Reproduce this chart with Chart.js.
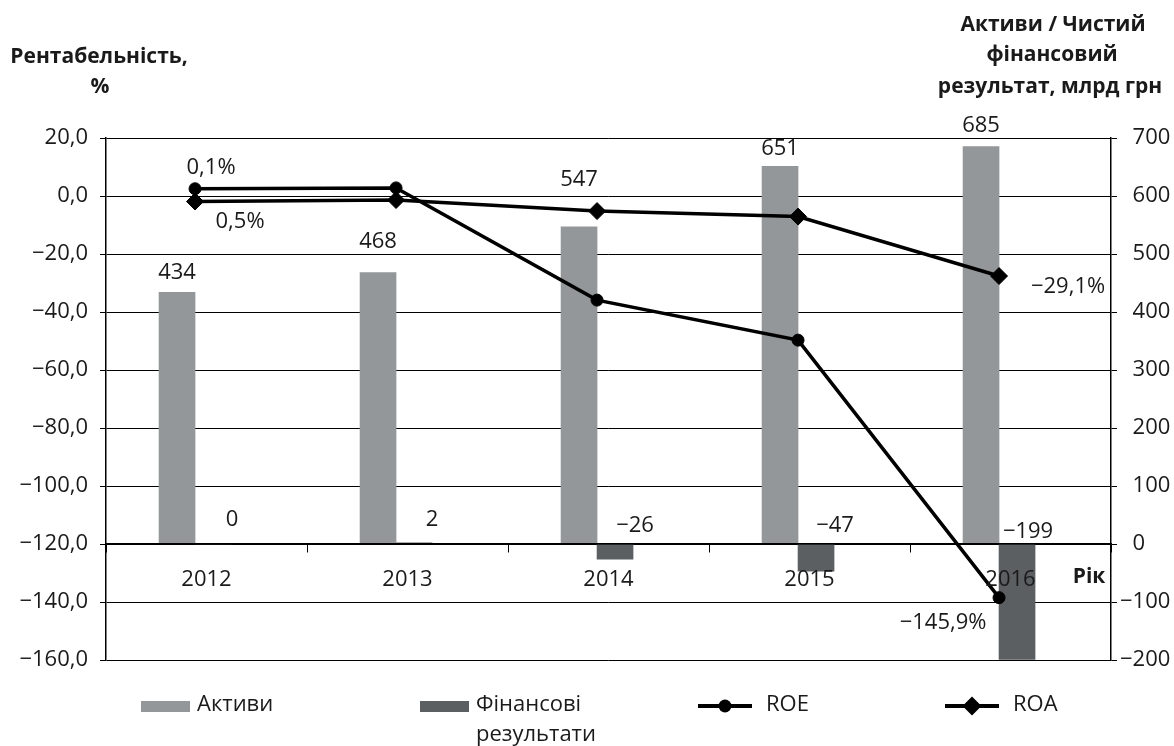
<!DOCTYPE html>
<html>
<head>
<meta charset="utf-8">
<script src="https://cdn.jsdelivr.net/npm/chart.js@4.4.1/dist/chart.umd.min.js"></script>
<style>
  html, body { margin: 0; padding: 0; background: #fff; }
</style>
</head>
<body>
<canvas id="myChart" width="1174" height="746"></canvas>
<script>
// дані
const years = ["2012", "2013", "2014", "2015", "2016"];
const aktyvy = [434, 468, 547, 651, 685];
const finRezultat = [0, 2, -26, -47, -199];
const roe = [2.5, 2.8, -35.9, -49.7, -138.5];
const roa = [-1.9, -1.4, -5.2, -7.1, -27.6];
const roeLabels = ["0,1%", "", "", "", "−145,9%"];
const roaLabels = ["0,5%", "", "", "", "−29,1%"];
const seriesNames = ["Активи", "Фінансові результати", "ROE", "ROA"];

const LIGHT = "#939799";
const DARK = "#5b5f62";
const INK = "#1a1a1a";
const FONT = "'Open Sans', sans-serif";

const minus = (s) => String(s).replace("-", "−");
const fmtPct = (v) => minus(v.toFixed(1).replace(".", ","));

const toPoints = (arr) => arr.map((v, i) => ({ x: i, y: v }));

Chart.defaults.font.family = FONT;
Chart.defaults.font.size = 22;
Chart.defaults.color = INK;

// підписи, заголовки осей та легенда
const labelsPlugin = {
  id: "labelsPlugin",
  afterDatasetsDraw(chart) {
    const ctx = chart.ctx;
    ctx.save();
    ctx.font = "22px " + FONT;
    ctx.fillStyle = INK;
    ctx.textAlign = "center";
    ctx.textBaseline = "middle";

    // активи над стовпчиками
    const lightDy = [-20, -31, -47, -18, -21];
    chart.getDatasetMeta(0).data.forEach((el, i) => {
      ctx.fillText(aktyvy[i], el.x, el.y + lightDy[i]);
    });

    // фінансові результати біля осі
    const y0 = chart.scales.y2.getPixelForValue(0);
    const darkDx = [19, 18, 20, 19, 11];
    const darkDy = [-24, -24, -18, -18, -12];
    chart.getDatasetMeta(1).data.forEach((el, i) => {
      ctx.fillText(minus(finRezultat[i]), el.x + darkDx[i], y0 + darkDy[i]);
    });

    // підписи ліній
    const roePos = { 0: [16, -21], 4: [-56, 25] };
    const roaPos = { 0: [45, 20], 4: [69, 11] };
    chart.getDatasetMeta(2).data.forEach((el, i) => {
      if (roeLabels[i]) ctx.fillText(roeLabels[i], el.x + roePos[i][0], el.y + roePos[i][1]);
    });
    chart.getDatasetMeta(3).data.forEach((el, i) => {
      if (roaLabels[i]) ctx.fillText(roaLabels[i], el.x + roaPos[i][0], el.y + roaPos[i][1]);
    });
    ctx.restore();
  },
  afterDraw(chart) {
    const ctx = chart.ctx;
    ctx.save();
    ctx.fillStyle = INK;
    ctx.textBaseline = "middle";
    ctx.textAlign = "center";

    ctx.font = "bold 21px " + FONT;
    ctx.fillText("Рентабельність,", 99, 57);
    ctx.fillText("%", 100, 87);
    ctx.fillText("Активи / Чистий", 1053, 25);
    ctx.fillText("фінансовий", 1052, 55);
    ctx.fillText("результат, млрд грн", 1050, 87);
    ctx.fillText("Рік", 1089, 577);

    // легенда
    const legendX = [141, 420, 698, 945];
    const ly = 706;
    ctx.textAlign = "left";
    ctx.font = "22px " + FONT;
    chart.data.datasets.forEach((ds, i) => {
      const x = legendX[i];
      let tx;
      if (ds.type === "line") {
        ctx.strokeStyle = "#000";
        ctx.lineWidth = 4;
        ctx.beginPath();
        ctx.moveTo(x, ly);
        ctx.lineTo(x + 54, ly);
        ctx.stroke();
        ctx.fillStyle = "#000";
        ctx.beginPath();
        if (ds.pointStyle === "circle") {
          ctx.arc(x + 27, ly, 6.5, 0, Math.PI * 2);
        } else {
          ctx.moveTo(x + 27, ly - 9.5);
          ctx.lineTo(x + 36.5, ly);
          ctx.lineTo(x + 27, ly + 9.5);
          ctx.lineTo(x + 17.5, ly);
          ctx.closePath();
        }
        ctx.fill();
        tx = x + 68;
      } else {
        ctx.fillStyle = ds.backgroundColor;
        ctx.fillRect(x, ly - 5, 49, 11);
        tx = x + 56;
      }
      ctx.fillStyle = INK;
      ds.label.split(" ").forEach((line, k) => {
        ctx.fillText(line, tx, ly - 1 + k * 30);
      });
    });
    ctx.restore();
  }
};

const ctx = document.getElementById("myChart");

const config = {
  type: "bar",
  data: {
    labels: years,
    datasets: [
      {
        type: "bar",
        label: seriesNames[0],
        data: toPoints(aktyvy),
        backgroundColor: LIGHT,
        xAxisID: "xd",
        yAxisID: "y2",
        barThickness: 36,
        order: 2
      },
      {
        type: "bar",
        label: seriesNames[1],
        data: toPoints(finRezultat),
        backgroundColor: DARK,
        xAxisID: "xd",
        yAxisID: "y2",
        barThickness: 36,
        order: 2
      },
      {
        type: "line",
        label: seriesNames[2],
        data: toPoints(roe),
        borderColor: "#000",
        borderWidth: 3.5,
        pointStyle: "circle",
        pointRadius: 6,
        pointBorderWidth: 1,
        pointBackgroundColor: "#000",
        pointBorderColor: "#000",
        tension: 0,
        xAxisID: "xd",
        yAxisID: "y",
        order: 0
      },
      {
        type: "line",
        label: seriesNames[3],
        data: toPoints(roa),
        borderColor: "#000",
        borderWidth: 3.5,
        pointStyle: "rectRot",
        pointRadius: 8.5,
        pointBorderWidth: 1,
        pointBackgroundColor: "#000",
        pointBorderColor: "#000",
        tension: 0,
        xAxisID: "xd",
        yAxisID: "y",
        order: 1
      }
    ]
  },
  options: {
    responsive: false,
    animation: false,
    devicePixelRatio: 1,
    layout: { padding: { left: 0, right: 0, top: 138, bottom: 86 } },
    plugins: {
      legend: { display: false },
      tooltip: { enabled: false }
    },
    scales: {
      x: {
        type: "category",
        axis: "x",
        position: { y: -120 },
        offset: true,
        grid: {
          offset: true,
          drawOnChartArea: false,
          tickLength: 8,
          color: "#000",
          lineWidth: 1
        },
        border: { color: "#000", width: 1.5, z: 1 },
        ticks: { padding: 15, maxRotation: 0, z: 1, font: { size: 22 } }
      },
      xd: {
        type: "linear",
        axis: "x",
        display: false,
        offset: false,
        min: -0.443,
        max: 4.557
      },
      y: {
        type: "linear",
        position: "left",
        min: -160,
        max: 20,
        afterFit: (s) => { s.width = 106; },
        ticks: {
          stepSize: 20,
          padding: 12,
          callback: (v) => fmtPct(v)
        },
        grid: { color: "#000", lineWidth: 1, tickLength: 6 },
        border: { color: "#000", width: 1.5 }
      },
      y2: {
        type: "linear",
        position: "right",
        min: -200,
        max: 700,
        afterFit: (s) => { s.width = 63; },
        ticks: {
          stepSize: 100,
          padding: 3,
          callback: (v) => (v < 0 ? minus(v) : "\u2007" + v)
        },
        grid: { drawOnChartArea: false, color: "#000", lineWidth: 1, tickLength: 6 },
        border: { color: "#000", width: 1.5 }
      }
    }
  },
  plugins: [labelsPlugin]
};

const myChart = new Chart(ctx, config);
</script>
</body>
</html>
